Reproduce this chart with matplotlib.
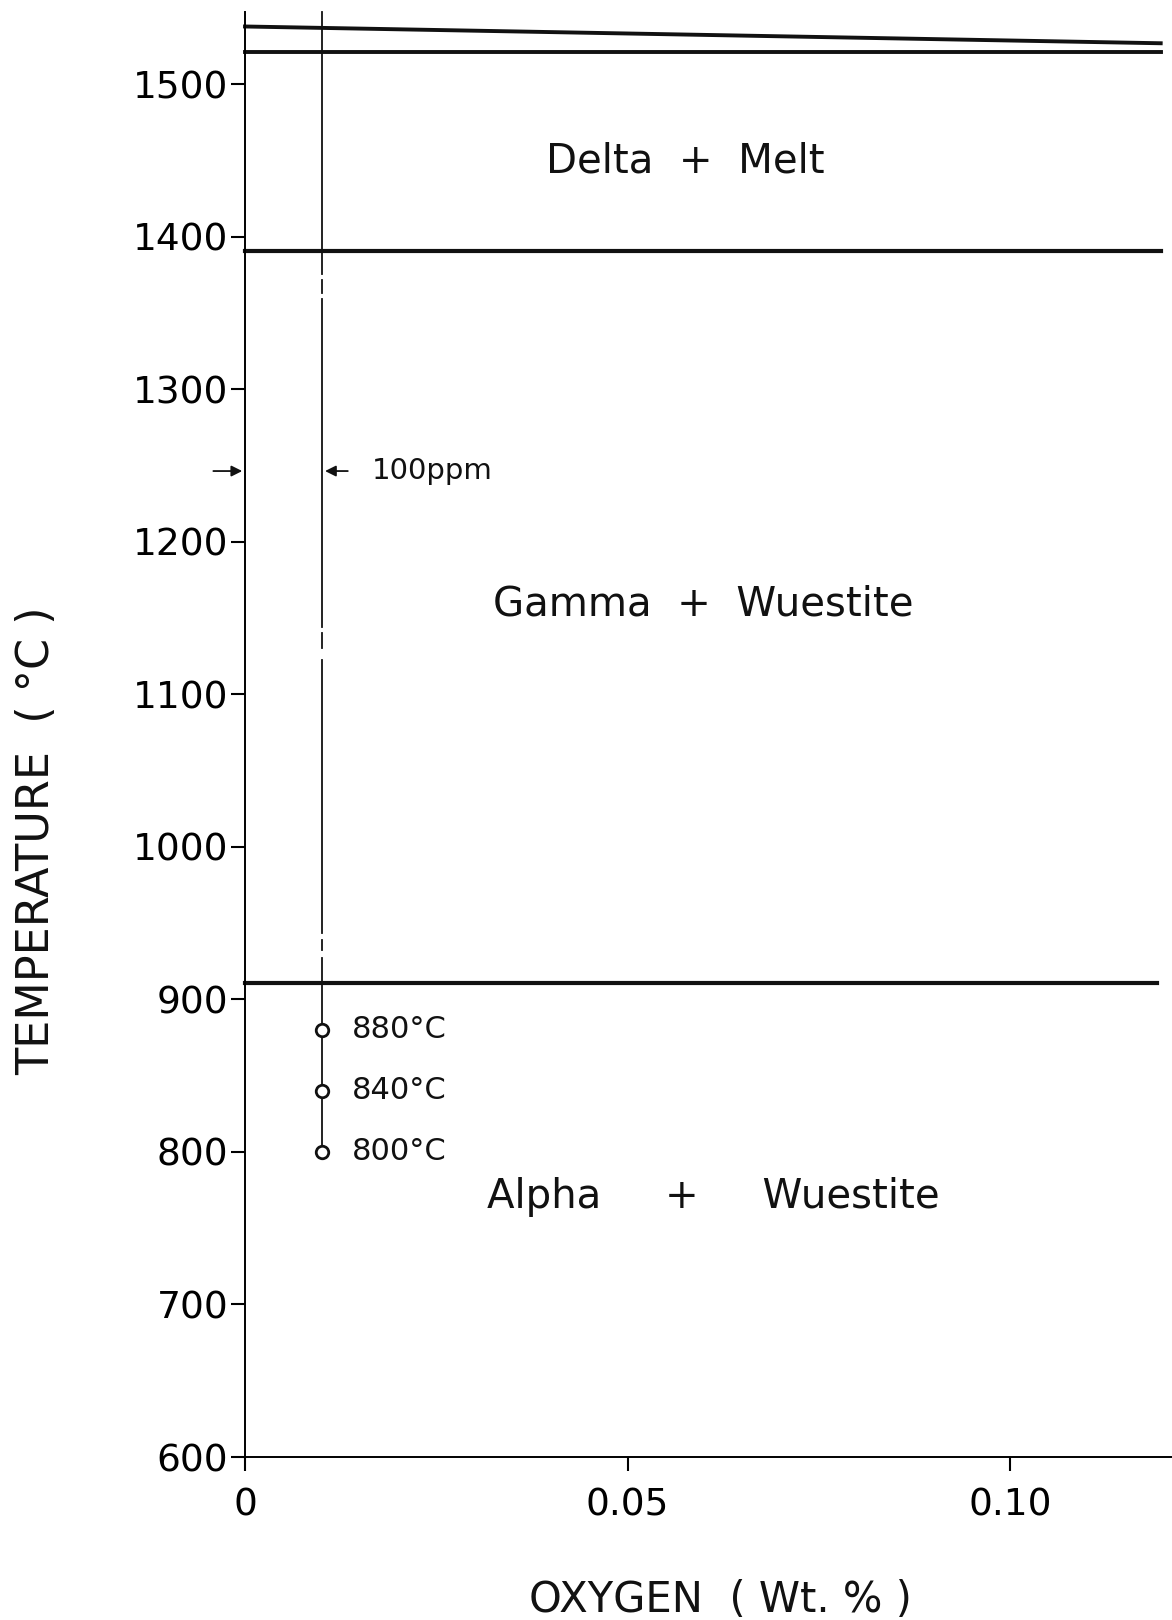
import matplotlib
matplotlib.use("Agg")
import matplotlib.pyplot as plt
from matplotlib import font_manager

# phase boundaries (wt% O vs degC)
bound_x = [0.0, 0.1197]
liquidus_T = [1538, 1527]
delta_melt_T = [1521, 1521]
gamma_delta_T = [1391, 1391]
alpha_gamma_x = [0.0, 0.1192]
alpha_gamma_T = [910.5, 910.5]

# 100 ppm sample line and anneal points
ppm_x = 0.0101
ppm_segments = [(1547.5, 1376), (1372, 1363), (1359, 1144), (1140, 1130.5),
                (1122.5, 943.5), (939, 932.5), (927, 800)]
sample_T = [880, 840, 800]
sample_labels = ["880°C", "840°C", "800°C"]

regions = ["Delta  +  Melt", "Gamma  +  Wuestite", "Alpha     +     Wuestite"]
region_x = [0.0576, 0.0599, 0.0612]
region_T = [1442, 1152, 763]   # baselines

xticks = [0, 0.05, 0.10]
xticklabels = ["0", "0.05", "0.10"]
yticks = [600, 700, 800, 900, 1000, 1100, 1200, 1300, 1400, 1500]

names = {f.name for f in font_manager.fontManager.ttflist}
NARROW = "Liberation Sans Narrow" if "Liberation Sans Narrow" in names else None
plt.rcParams["font.family"] = ["DejaVu Sans"]

W, H = 1172, 1620
fig = plt.figure(figsize=(W / 100, H / 100), dpi=100)
x0, y0, ytop = 245, 1457, 12
ax = fig.add_axes([x0 / W, 1 - y0 / H, (W - x0) / W, (y0 - ytop) / H])
ax.set_xlim(0, (W - x0) / 7650)
ax.set_ylim(600, 1547.5)

for s in ("top", "right"):
    ax.spines[s].set_visible(False)
for s in ("left", "bottom"):
    ax.spines[s].set_linewidth(1.4)

ax.set_xticks(xticks)
ax.set_xticklabels(xticklabels)
ax.set_yticks(yticks)
ax.tick_params(direction="out", length=10, width=1.5, labelsize=27, pad=2)
ax.tick_params(axis="x", pad=12)

K = "#111111"
ax.plot(bound_x, liquidus_T, color=K, lw=2.8, clip_on=False)
ax.plot(bound_x, delta_melt_T, color=K, lw=2.8, clip_on=False)
ax.plot(bound_x, gamma_delta_T, color=K, lw=3.0, clip_on=False)
ax.plot(alpha_gamma_x, alpha_gamma_T, color=K, lw=3.0, clip_on=False)

for top, bot in ppm_segments:
    ax.plot([ppm_x, ppm_x], [top, bot], color=K, lw=1.3, clip_on=False)
ax.plot([ppm_x] * len(sample_T), sample_T, "o", ms=9, mfc="white", mec=K, mew=2, zorder=5)
for t, lab in zip(sample_T, sample_labels):
    ax.text(0.014, t, lab, fontsize=22, va="center", ha="left", color=K)

# 100 ppm marker arrows
ax.annotate("", xy=(0, 1246.5), xytext=(-0.0045, 1246.5),
            arrowprops=dict(arrowstyle="-|>", lw=1.3, color=K, mutation_scale=16),
            annotation_clip=False)
ax.annotate("", xy=(ppm_x, 1246.5), xytext=(0.0138, 1246.5),
            arrowprops=dict(arrowstyle="-|>", lw=1.3, color=K, mutation_scale=16),
            annotation_clip=False)
ax.text(0.0166, 1246.5, "100ppm", fontsize=21, va="center", ha="left", color=K)

for lab, x, t in zip(regions, region_x, region_T):
    ax.text(x, t, lab, fontsize=29, ha="center", va="baseline", color=K)

lab_fam = [NARROW, "DejaVu Sans"] if NARROW else ["DejaVu Sans"]
fig.text(37 / W, 1 - 841 / H, "TEMPERATURE  ( °C )", rotation=90, ha="center", va="center",
         fontsize=35 if NARROW else 32, family=lab_fam, color=K)
fig.text(720 / W, 1 - 1600 / H, "OXYGEN  ( Wt. % )", ha="center", va="center",
         fontsize=35 if NARROW else 30, family=lab_fam, color=K)

fig.savefig("out.png", dpi=100, facecolor="white")
